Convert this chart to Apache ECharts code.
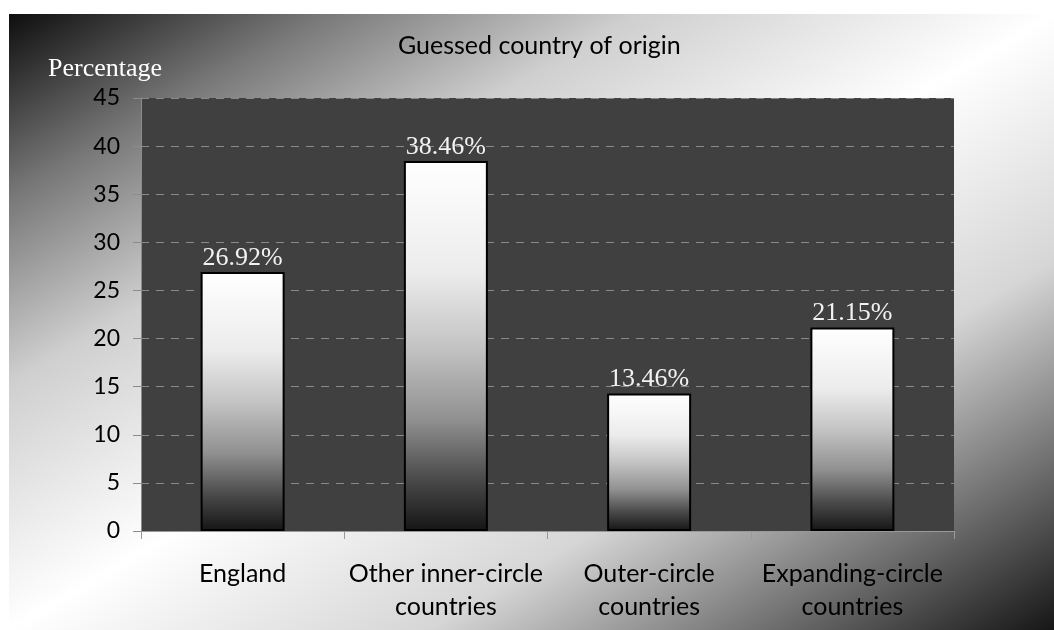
<!doctype html>
<html>
<head>
    <meta charset="utf-8">
    <title>Guessed country of origin</title>
    <script src="https://cdn.jsdelivr.net/npm/echarts@6/dist/echarts.min.js"></script>
    <style>
        html, body { margin: 0; padding: 0; background: #fff; }
        #main { width: 1054px; height: 630px; }
    </style>
</head>
<body>
    <div id="main"></div>
    <script type="text/javascript">
        // categories and values
        var categories = ['England', 'Other inner-circle\ncountries', 'Outer-circle\ncountries', 'Expanding-circle\ncountries'];
        var barValues = [26.92, 38.46, 14.3, 21.15];
        var barLabels = ['26.92%', '38.46%', '13.46%', '21.15%'];
        var yTicks = [0, 5, 10, 15, 20, 25, 30, 35, 40, 45];

        var sansFont = 'Lato, "Open Sans", sans-serif';
        var serifFont = '"Liberation Serif", "DejaVu Serif", serif';

        // background: dark corners, white band along the anti-diagonal
        var bgW = 1045, bgH = 616;
        var gx2 = 2 * bgH * bgH / (bgW * bgW + bgH * bgH);
        var gy2 = 2 * bgW * bgW / (bgW * bgW + bgH * bgH);

        var myChart = echarts.init(document.getElementById('main'));
        var option = {
            backgroundColor: '#fff',
            animation: false,
            graphic: [{
                type: 'rect',
                z: -10,
                silent: true,
                shape: { x: 9, y: 14, width: bgW, height: bgH },
                style: {
                    fill: new echarts.graphic.LinearGradient(0, 0, gx2, gy2, [
                        { offset: 0, color: '#0e0e0e' },
                        { offset: 0.15, color: '#787878' },
                        { offset: 0.3, color: '#cfcfcf' },
                        { offset: 0.5, color: '#ffffff' },
                        { offset: 0.7, color: '#d6d6d6' },
                        { offset: 0.86, color: '#707070' },
                        { offset: 1, color: '#161616' }
                    ])
                }
            }],
            title: [{
                text: 'Guessed country of origin',
                left: 393,
                top: 28,
                textStyle: { fontFamily: sansFont, fontSize: 25, fontWeight: 'normal', color: '#000' }
            }, {
                text: 'Percentage',
                left: 43,
                top: 51,
                textStyle: { fontFamily: serifFont, fontSize: 26, fontWeight: 'normal', color: '#fff' }
            }],
            grid: {
                left: 141,
                right: 100,
                top: 98,
                bottom: 99,
                show: true,
                backgroundColor: '#404040',
                borderWidth: 0
            },
            xAxis: {
                type: 'category',
                data: categories,
                axisLine: { lineStyle: { color: '#999', width: 1 } },
                axisTick: { show: true, length: 8, lineStyle: { color: '#999' } },
                axisLabel: {
                    color: '#000',
                    fontFamily: sansFont,
                    fontSize: 25,
                    lineHeight: 33,
                    margin: 26,
                    interval: 0
                }
            },
            yAxis: {
                type: 'value',
                min: yTicks[0],
                max: yTicks[yTicks.length - 1],
                interval: yTicks[1] - yTicks[0],
                axisLine: { show: true, lineStyle: { color: '#8c8c8c', width: 1 } },
                axisTick: { show: true, length: 8, lineStyle: { color: '#8c8c8c' } },
                axisLabel: { color: '#000', fontFamily: sansFont, fontSize: 23, margin: 21 },
                splitLine: { lineStyle: { color: '#8a8a8a', type: [8, 7], width: 1 } }
            },
            series: [{
                type: 'bar',
                data: barValues,
                barWidth: 84,
                itemStyle: {
                    color: new echarts.graphic.LinearGradient(0, 0, 0, 1, [
                        { offset: 0, color: '#ffffff' },
                        { offset: 0.3, color: '#ececec' },
                        { offset: 0.5, color: '#c4c4c4' },
                        { offset: 0.7, color: '#909090' },
                        { offset: 0.86, color: '#4a4a4a' },
                        { offset: 1, color: '#151515' }
                    ]),
                    borderColor: '#000',
                    borderWidth: 2
                },
                label: {
                    show: true,
                    position: 'top',
                    distance: 1,
                    color: '#f2f2f2',
                    fontFamily: serifFont,
                    fontSize: 26,
                    formatter: function (p) { return barLabels[p.dataIndex]; }
                }
            }]
        };
        myChart.setOption(option);
    </script>
</body>
</html>
